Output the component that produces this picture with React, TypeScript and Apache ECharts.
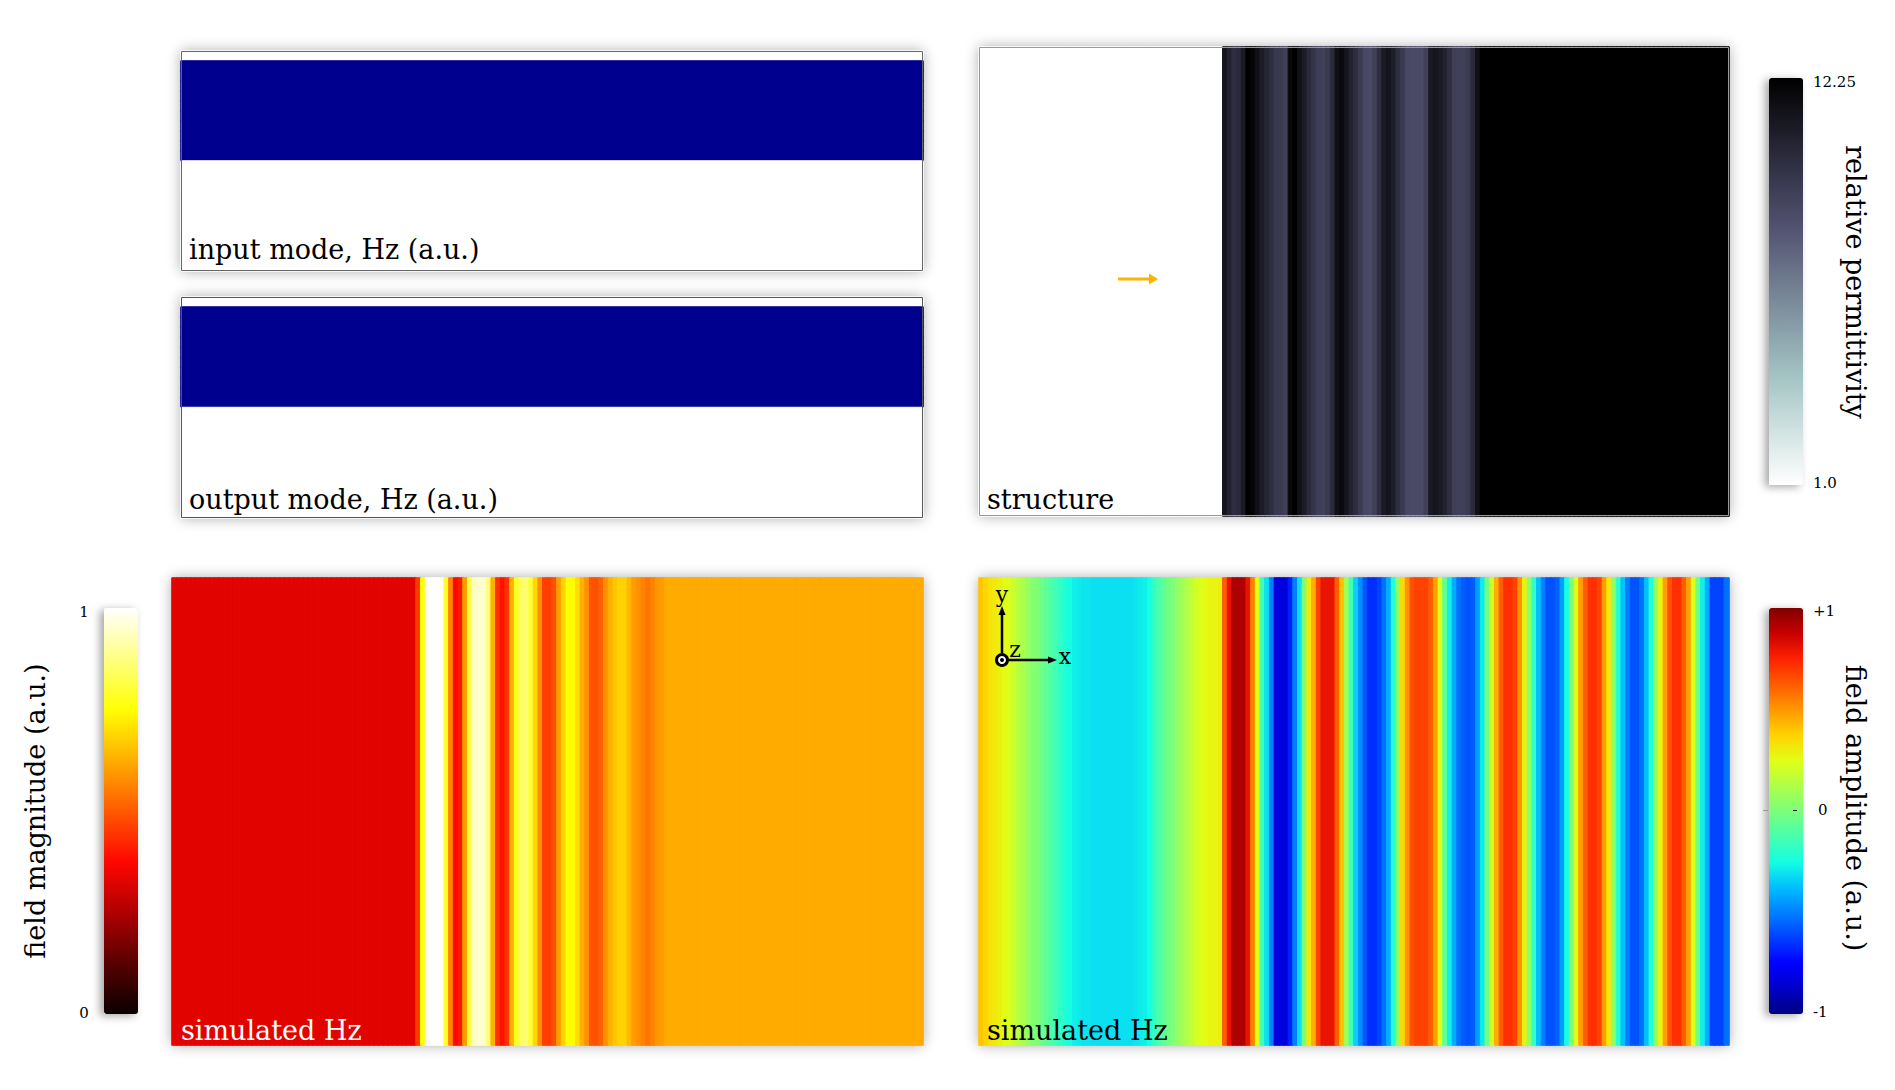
import React, { useEffect, useRef } from "react";
import * as echarts from "echarts";

// ---------------- data ----------------
// simulation grid: 160 columns along x (source region | design region | output region)
const xColumns = Array.from({ length: 160 }, (_, i) => String(i));
const sourceRegionColumns = 52;
const outputRegionColumns = 53;

// mode profiles (22 rows, top to bottom), Hz (a.u.)
const modeRows = Array.from({ length: 22 }, (_, i) => String(i));
const inputMode = [0, 1, 1, 1, 1, 1, 1, 1, 1, 1, 1, 0, 0, 0, 0, 0, 0, 0, 0, 0, 0, 0];
const outputMode = [0, 1, 1, 1, 1, 1, 1, 1, 1, 1, 1, 0, 0, 0, 0, 0, 0, 0, 0, 0, 0, 0];

// relative permittivity
const epsSource = 1.0;
const epsOutput = 12.25;
const epsDesign = [
  11.19, 10.53, 9.93, 10.13, 10.94, 12.25, 12.0, 11.44, 10.84, 10.38,
  9.93, 9.42, 9.32, 9.02, 11.74, 12.25, 11.44, 10.84, 10.13, 9.57,
  9.12, 9.02, 9.32, 10.13, 11.44, 11.74, 11.19, 10.53, 9.93, 9.32,
  8.62, 8.51, 9.02, 9.93, 10.94, 11.19, 10.73, 9.93, 9.32, 8.62,
  8.51, 8.51, 8.51, 9.02, 10.94, 11.19, 10.94, 10.53, 9.93, 9.12,
  9.02, 9.02, 9.32, 10.13, 11.44,
];

// field magnitude |Hz| (a.u.)
const magSource = 0.33;
const magOutput = 0.62;
const magDesign = [
  0.45, 0.75, 0.98, 1.0, 1.0, 0.99, 0.79, 0.56, 0.37, 0.4,
  0.6, 0.81, 0.94, 0.95, 0.95, 0.87, 0.63, 0.44, 0.39, 0.44,
  0.63, 0.78, 0.84, 0.86, 0.81, 0.69, 0.58, 0.46, 0.455, 0.485,
  0.6, 0.68, 0.75, 0.75, 0.7, 0.63, 0.58, 0.49, 0.485, 0.51,
  0.58, 0.63, 0.66, 0.68, 0.68, 0.64, 0.6, 0.58, 0.56, 0.54,
  0.56, 0.59, 0.6, 0.62, 0.62,
];

// field amplitude Re(Hz) (a.u.)
const ampSource = [
  0.4, 0.37, 0.33, 0.31, 0.29, 0.26, 0.23, 0.19, 0.15, 0.11,
  0.07, 0.03, 0.01, -0.03, -0.07, -0.11, -0.14, -0.18, -0.22, -0.25,
  -0.28, -0.29, -0.3, -0.3, -0.31, -0.31, -0.31, -0.31, -0.31, -0.31,
  -0.31, -0.31, -0.31, -0.3, -0.29, -0.28, -0.25, -0.18, -0.11, -0.07,
  -0.03, 0.01, 0.05, 0.09, 0.13, 0.17, 0.21, 0.24, 0.26, 0.28,
  0.28, 0.29,
];
const ampDesign = [
  0.62, 0.8, 0.92, 0.92, 0.92, 0.8, 0.55, 0.25, -0.14, -0.31,
  -0.5, -0.83, -0.83, -0.83, -0.69, -0.5, -0.31, 0.01, 0.31, 0.45,
  0.68, 0.8, 0.8, 0.8, 0.62, 0.41, 0.09, -0.14, -0.34, -0.47,
  -0.59, -0.66, -0.66, -0.62, -0.53, -0.41, -0.22, 0.05, 0.35, 0.51,
  0.65, 0.68, 0.68, 0.68, 0.62, 0.48, 0.24, -0.07, -0.28, -0.41,
  -0.53, -0.57, -0.59, -0.57, -0.44,
];
const ampOutput = [
  -0.29, -0.03, 0.21, 0.45, 0.62, 0.72, 0.72, 0.68, 0.51, 0.29,
  0.05, -0.18, -0.37, -0.5, -0.59, -0.59, -0.56, -0.44, -0.25, 0.01,
  0.24, 0.48, 0.62, 0.72, 0.72, 0.68, 0.48, 0.31, 0.05, -0.22,
  -0.37, -0.5, -0.59, -0.59, -0.53, -0.37, -0.22, 0.05, 0.28, 0.48,
  0.65, 0.72, 0.72, 0.62, 0.48, 0.24, -0.03, -0.28, -0.41, -0.62,
  -0.62, -0.62, -0.53,
];

// colour-bar tick labels
const epsTicks = ["12.25", "1.0"];
const magTicks = ["1", "0"];
const ampTicks = ["+1", "0", "-1"];

// colour maps
const modeColors = ["#ffffff", "#00008f"];
const boneR = ["#ffffff", "#d3e4e3", "#a8c8c7", "#8ba2ab", "#6f7b8f", "#545473", "#38384e", "#1c1c27", "#000000"];
const hot = ["#0b0000", "#570000", "#af0000", "#ff0700", "#ff5a00", "#ffae00", "#ffff04", "#ffff82", "#ffffff"];
const jet = [
  "#000080", "#0000c8", "#0000ff", "#0040ff", "#0080ff", "#00bfff", "#15ffe2", "#48ffaf", "#7bff7b",
  "#afff48", "#e2ff15", "#ffd200", "#ff9700", "#ff5c00", "#ff2100", "#c80000", "#800000",
];

// ---------------- helpers ----------------
const fullRow = (src: number | number[], design: number[], out: number | number[]) => {
  const a = Array.isArray(src) ? src : Array(sourceRegionColumns).fill(src);
  const c = Array.isArray(out) ? out : Array(outputRegionColumns).fill(out);
  return [...a, ...design, ...c];
};
const hexRgb = (h: string) => [1, 3, 5].map((k) => parseInt(h.slice(k, k + 2), 16));
// same linear RGB interpolation the continuous visualMap applies; used only to
// stroke each cell edge in its own colour so no hairline seams appear between cells
const cellColor = (v: number, min: number, max: number, stops: string[]) => {
  const t = Math.min(1, Math.max(0, (v - min) / (max - min))) * (stops.length - 1);
  const i = Math.min(stops.length - 2, Math.floor(t));
  const f = t - i;
  const a = hexRgb(stops[i]);
  const b = hexRgb(stops[i + 1]);
  const c = a.map((x, k) => Math.round(x + (b[k] - x) * f));
  return `rgb(${c[0]},${c[1]},${c[2]})`;
};
const stripeData = (vals: number[], min: number, max: number, stops: string[]) =>
  vals.map((v, i) => ({
    value: [i, 0, v],
    itemStyle: { borderColor: cellColor(v, min, max, stops), borderWidth: 1 },
  }));
const modeData = (vals: number[]) =>
  vals.map((v, r) => ({
    value: [0, r, v],
    itemStyle: { borderColor: cellColor(v, 0, 1, modeColors), borderWidth: 1 },
  }));

const SERIF = '"DejaVu Serif", "Liberation Serif", serif';

export default function App() {
  const ref = useRef<HTMLDivElement>(null);

  useEffect(() => {
    if (!ref.current) return;
    const chart = echarts.init(ref.current, undefined, { renderer: "svg" });

    const grids = [
      { left: 181, top: 51, width: 742, height: 220 },
      { left: 181, top: 297, width: 742, height: 221 },
      { left: 979, top: 47, width: 750, height: 469 },
      { left: 172, top: 578, width: 751, height: 467 },
      { left: 979, top: 578, width: 750, height: 467 },
    ];

    const hidden = { show: false };
    const xAxis = grids.map((_, i) => ({
      type: "category",
      gridIndex: i,
      data: i < 2 ? ["0"] : xColumns,
      ...hidden,
    }));
    const yAxis = grids.map((_, i) => ({
      type: "category",
      gridIndex: i,
      data: i < 2 ? modeRows : ["0"],
      inverse: true,
      ...hidden,
    }));

    const heat = (i: number, data: any[]) => ({
      type: "heatmap",
      xAxisIndex: i,
      yAxisIndex: i,
      data,
      emphasis: { disabled: true },
      progressive: 0,
    });

    const series = [
      heat(0, modeData(inputMode)),
      heat(1, modeData(outputMode)),
      heat(2, stripeData(fullRow(epsSource, epsDesign, epsOutput), 1, 12.25, boneR)),
      heat(3, stripeData(fullRow(magSource, magDesign, magOutput), 0, 1, hot)),
      heat(4, stripeData(fullRow(ampSource, ampDesign, ampOutput), -1, 1, jet)),
    ];

    const bar = { itemWidth: 34, padding: 0, calculable: false, hoverLink: false, orient: "vertical" };
    const visualMap = [
      { type: "continuous", seriesIndex: [0, 1], min: 0, max: 1, show: false, inRange: { color: modeColors } },
      { type: "continuous", seriesIndex: 2, min: 1, max: 12.25, left: 1769, top: 78, itemHeight: 407, inRange: { color: boneR }, ...bar },
      { type: "continuous", seriesIndex: 3, min: 0, max: 1, left: 104, top: 608, itemHeight: 406, inRange: { color: hot }, ...bar },
      { type: "continuous", seriesIndex: 4, min: -1, max: 1, left: 1769, top: 608, itemHeight: 406, inRange: { color: jet }, ...bar },
    ];

    const shadowRect = (g: any, blur = 14, color = "rgba(0,0,0,0.35)") => ({
      type: "rect",
      z: 0,
      shape: { x: g.left, y: g.top, width: g.width, height: g.height },
      style: { fill: "#ffffff", shadowBlur: blur, shadowColor: color },
      silent: true,
    });
    const borderRect = (g: any, stroke: string) => ({
      type: "rect",
      z: 100,
      shape: { x: g.left + 0.5, y: g.top + 0.5, width: g.width - 1, height: g.height - 1 },
      style: { fill: "none", stroke, lineWidth: 1 },
      silent: true,
    });
    const txt = (text: string, x: number, y: number, size: number, extra: any = {}) => ({
      type: "text",
      z: 100,
      x,
      y,
      silent: true,
      rotation: extra.rotation || 0,
      style: {
        text,
        font: `${size}px ${SERIF}`,
        fill: extra.fill || "#000000",
        align: extra.align || "left",
        verticalAlign: "middle",
      },
    });
    const cbShadow = (x: number, y: number, h: number) => ({
      type: "rect",
      z: 0,
      shape: { x, y, width: 34, height: h },
      style: { fill: "#ffffff", shadowBlur: 8, shadowOffsetX: -4, shadowOffsetY: 2, shadowColor: "rgba(0,0,0,0.35)" },
      silent: true,
    });

    const elements: any[] = [
      ...grids.map((g) => shadowRect(g)),
      cbShadow(1769, 78, 407),
      cbShadow(104, 608, 406),
      cbShadow(1769, 608, 406),
      borderRect(grids[0], "#666666"),
      borderRect(grids[1], "#555555"),
      borderRect(grids[2], "#999999"),
      // panel labels
      txt("input mode, Hz (a.u.)", 189, 249, 27),
      txt("output mode, Hz (a.u.)", 189, 499, 27),
      txt("structure", 987, 499, 27),
      txt("simulated Hz", 181, 1030, 27, { fill: "#ffffff" }),
      txt("simulated Hz", 987, 1030, 27),
      // colour bar titles
      txt("relative permittivity", 1855, 282, 27, { rotation: -Math.PI / 2, align: "center" }),
      txt("field amplitude (a.u.)", 1855, 808, 27, { rotation: -Math.PI / 2, align: "center" }),
      txt("field magnitude (a.u.)", 35, 811, 27, { rotation: Math.PI / 2, align: "center" }),
      // colour bar ticks
      txt(epsTicks[0], 1813, 82, 15),
      txt(epsTicks[1], 1813, 483, 15),
      txt(magTicks[0], 84, 612, 15, { align: "center" }),
      txt(magTicks[1], 84, 1013, 15, { align: "center" }),
      txt(ampTicks[0], 1813, 611, 15),
      txt(ampTicks[1], 1818, 810, 15),
      txt(ampTicks[2], 1813, 1012, 15),
      { type: "line", z: 100, silent: true, shape: { x1: 1793, y1: 810.5, x2: 1797, y2: 810.5 }, style: { stroke: "#000", lineWidth: 1 } },
      { type: "line", z: 100, silent: true, shape: { x1: 1763, y1: 810.5, x2: 1768, y2: 810.5 }, style: { stroke: "#999", lineWidth: 1 } },
      // source arrow in structure panel
      { type: "line", z: 100, silent: true, shape: { x1: 1118, y1: 279, x2: 1151, y2: 279 }, style: { stroke: "#ffb400", lineWidth: 3 } },
      { type: "polygon", z: 100, silent: true, shape: { points: [[1149, 273.5], [1158, 279], [1149, 284.5]] }, style: { fill: "#ffb400" } },
      // coordinate triad in amplitude panel
      { type: "line", z: 100, silent: true, shape: { x1: 1002, y1: 653, x2: 1002, y2: 614 }, style: { stroke: "#000", lineWidth: 2.5 } },
      { type: "polygon", z: 100, silent: true, shape: { points: [[998.5, 615], [1002, 606], [1005.5, 615]] }, style: { fill: "#000" } },
      { type: "line", z: 100, silent: true, shape: { x1: 1009, y1: 660, x2: 1049, y2: 660 }, style: { stroke: "#000", lineWidth: 2.5 } },
      { type: "polygon", z: 100, silent: true, shape: { points: [[1048, 656.5], [1057, 660], [1048, 663.5]] }, style: { fill: "#000" } },
      { type: "circle", z: 100, silent: true, shape: { cx: 1002, cy: 660, r: 5.5 }, style: { fill: "#fff", stroke: "#000", lineWidth: 3 } },
      { type: "circle", z: 101, silent: true, shape: { cx: 1002, cy: 660, r: 2 }, style: { fill: "#000" } },
      txt("y", 1002, 594, 22, { align: "center" }),
      txt("z", 1015, 649, 22, { align: "center" }),
      txt("x", 1065, 656, 22, { align: "center" }),
    ];

    chart.setOption({
      animation: false,
      backgroundColor: "#ffffff",
      grid: grids.map((g) => ({ ...g, containLabel: false })),
      xAxis,
      yAxis,
      visualMap,
      series,
      graphic: { elements },
    });

    return () => chart.dispose();
  }, []);

  return (
    <div
      ref={ref}
      style={{ position: "fixed", left: 0, top: 0, width: 1895, height: 1090, background: "#fff" }}
    />
  );
}
